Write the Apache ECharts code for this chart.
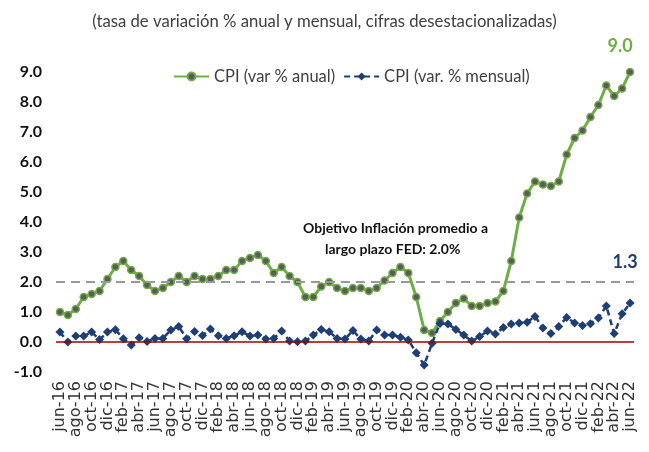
<!DOCTYPE html>
<html>
<head>
<meta charset="utf-8">
<script src="https://cdn.jsdelivr.net/npm/echarts@6/dist/echarts.min.js"></script>
<style>
html,body{margin:0;padding:0;background:#fff;}
#chart{width:649px;height:452px;}
</style>
</head>
<body>
<div id="chart"></div>
<script>
var categories = [
 'jun-16','jul-16','ago-16','sep-16','oct-16','nov-16','dic-16',
 'ene-17','feb-17','mar-17','abr-17','may-17','jun-17','jul-17','ago-17','sep-17','oct-17','nov-17','dic-17',
 'ene-18','feb-18','mar-18','abr-18','may-18','jun-18','jul-18','ago-18','sep-18','oct-18','nov-18','dic-18',
 'ene-19','feb-19','mar-19','abr-19','may-19','jun-19','jul-19','ago-19','sep-19','oct-19','nov-19','dic-19',
 'ene-20','feb-20','mar-20','abr-20','may-20','jun-20','jul-20','ago-20','sep-20','oct-20','nov-20','dic-20',
 'ene-21','feb-21','mar-21','abr-21','may-21','jun-21','jul-21','ago-21','sep-21','oct-21','nov-21','dic-21',
 'ene-22','feb-22','mar-22','abr-22','may-22','jun-22'
];
var cpiAnual = [
 1.0,0.9,1.1,1.5,1.6,1.7,2.1,
 2.5,2.7,2.4,2.2,1.9,1.7,1.8,2.0,2.2,2.0,2.2,2.1,
 2.1,2.2,2.4,2.4,2.7,2.8,2.9,2.7,2.3,2.5,2.2,2.0,
 1.5,1.5,1.85,2.0,1.8,1.7,1.8,1.8,1.7,1.8,2.05,2.3,
 2.5,2.3,1.5,0.4,0.3,0.7,1.0,1.3,1.45,1.2,1.2,1.3,
 1.35,1.7,2.7,4.15,4.95,5.35,5.25,5.2,5.35,6.25,6.8,7.05,
 7.5,7.9,8.55,8.2,8.45,9.0
];
var cpiMensual = [
 0.33,0.0,0.2,0.2,0.33,0.08,0.33,
 0.41,0.11,-0.1,0.14,0.02,0.12,0.12,0.4,0.52,0.11,0.35,0.22,
 0.43,0.21,0.12,0.21,0.34,0.2,0.23,0.1,0.12,0.37,0.03,0.01,
 0.03,0.23,0.42,0.34,0.12,0.1,0.38,0.1,0.03,0.4,0.23,0.23,
 0.16,0.07,-0.36,-0.77,-0.04,0.62,0.6,0.42,0.23,0.03,0.18,0.37,
 0.27,0.48,0.6,0.63,0.66,0.85,0.47,0.28,0.52,0.82,0.63,0.55,
 0.61,0.8,1.2,0.28,0.94,1.3
];
var objetivoFed = 2.0;
var yTicks = {min:-1, max:9, interval:1};

var FONT = 'Lato, "DejaVu Sans", sans-serif';
var green = '#70AD47';
var navy = '#1F3E73';

function withLastLabel(arr, labelCfg){
  return arr.map(function(v,i){
    if(i === arr.length-1){ return {value:v, label:labelCfg}; }
    return v;
  });
}

var chart = echarts.init(document.getElementById('chart'), null, {renderer:'canvas'});
chart.setOption({
  animation:false,
  backgroundColor:'#fff',
  title:{
    text:'(tasa de variación % anual y mensual, cifras desestacionalizadas)',
    left:'center', top:8,
    textStyle:{fontFamily:FONT, fontSize:16.7, fontWeight:'normal', color:'#404040'}
  },
  legend:{
    left:168, top:63,
    itemWidth:35, itemHeight:10, itemGap:8,
    textStyle:{fontFamily:FONT, fontSize:16.5, color:'#404040'},
    data:['CPI (var % anual)','CPI (var. % mensual)']
  },
  grid:{left:56, right:15, top:72, bottom:80},
  xAxis:{
    type:'category',
    data:categories,
    boundaryGap:true,
    axisLine:{show:false, onZero:false},
    axisTick:{show:false},
    axisLabel:{
      interval:1, rotate:90, margin:9,
      fontFamily:'"DejaVu Sans", sans-serif', fontSize:16, color:'#333'
    },
    splitLine:{show:false}
  },
  yAxis:{
    type:'value',
    min:yTicks.min, max:yTicks.max, interval:yTicks.interval,
    axisLine:{show:false}, axisTick:{show:false},
    splitLine:{show:false},
    axisLabel:{
      margin:14, fontFamily:FONT, fontSize:16, fontWeight:'bold', color:'#111',
      formatter:function(v){return v.toFixed(1);}
    }
  },
  graphic:[
    {type:'text', left:303, top:221,
     style:{text:'Objetivo Inflación promedio a', font:'bold 14px '+FONT, fill:'#111', textAlign:'left'}},
    {type:'text', left:325, top:242,
     style:{text:'largo plazo FED: 2.0%', font:'bold 14px '+FONT, fill:'#111', textAlign:'left'}}
  ],
  series:[
    {
      name:'CPI (var % anual)',
      type:'line',
      data:withLastLabel(cpiAnual, {show:true, position:'top', offset:[-10,-8],
        formatter:function(p){return p.value.toFixed(1);},
        fontFamily:FONT, fontSize:18, fontWeight:'bold', color:green}),
      symbol:'circle', symbolSize:7, showAllSymbol:true,
      lineStyle:{color:green, width:3},
      itemStyle:{color:'#5B5B5B', borderColor:green, borderWidth:1.5},
      z:3,
      markLine:{
        silent:true, symbol:'none',
        label:{show:false},
        data:[
          {yAxis:objetivoFed, lineStyle:{color:'#999', type:[9,6], width:2}},
          {yAxis:0, lineStyle:{color:'#A00000', type:'solid', width:1.5}}
        ]
      }
    },
    {
      name:'CPI (var. % mensual)',
      type:'line',
      data:withLastLabel(cpiMensual, {show:true, position:'top', offset:[-5,-22],
        formatter:function(p){return p.value.toFixed(1);},
        fontFamily:FONT, fontSize:18, fontWeight:'bold', color:navy}),
      symbol:'diamond', symbolSize:9, showAllSymbol:true,
      lineStyle:{color:navy, width:2.5, type:[6,4]},
      itemStyle:{color:navy},
      z:4
    }
  ]
});
</script>
</body>
</html>
